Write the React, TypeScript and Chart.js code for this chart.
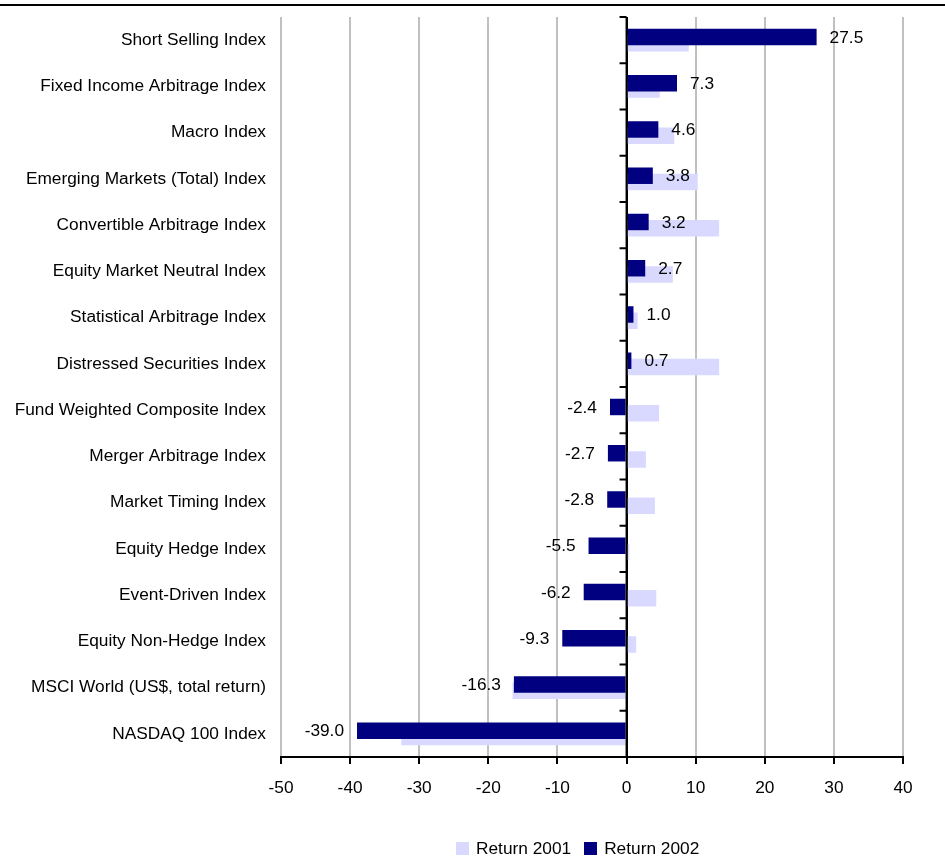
import React, { useEffect, useRef } from 'react';
import { Chart, registerables } from 'chart.js';

Chart.register(...registerables);

const categories = [
  'Short Selling Index',
  'Fixed Income Arbitrage Index',
  'Macro Index',
  'Emerging Markets (Total) Index',
  'Convertible Arbitrage Index',
  'Equity Market Neutral Index',
  'Statistical Arbitrage Index',
  'Distressed Securities Index',
  'Fund Weighted Composite Index',
  'Merger Arbitrage Index',
  'Market Timing Index',
  'Equity Hedge Index',
  'Event-Driven Index',
  'Equity Non-Hedge Index',
  'MSCI World (US$, total return)',
  'NASDAQ 100 Index',
];

const return2001 = [9.0, 4.8, 6.9, 10.3, 13.4, 6.7, 1.6, 13.4, 4.7, 2.8, 4.1, 0.4, 4.3, 1.4, -16.5, -32.6];
const return2002 = [27.5, 7.3, 4.6, 3.8, 3.2, 2.7, 1.0, 0.7, -2.4, -2.7, -2.8, -5.5, -6.2, -9.3, -16.3, -39.0];

const xMin = -50;
const xMax = 40;
const xStep = 10;

const COLOR_2001 = '#d9d9ff';
const COLOR_2002 = '#000080';
const FONT = '"Liberation Sans", Arial, sans-serif';
const FONT_SIZE = 17.3;

const series = [
  { label: 'Return 2002', data: return2002, color: COLOR_2002, order: 0 },
  { label: 'Return 2001', data: return2001, color: COLOR_2001, order: 1 },
];

const legendItems = [...series].reverse();

const overlayPlugin = {
  id: 'overlay',
  afterDatasetsDraw(chart: any) {
    const { ctx, chartArea, scales } = chart;
    const xs = scales.x;
    const ys = scales.y;
    const x0 = xs.getPixelForValue(0);
    ctx.save();
    // vertical axis at zero
    ctx.strokeStyle = '#000';
    ctx.lineWidth = 2;
    ctx.beginPath();
    ctx.moveTo(x0, chartArea.top);
    ctx.lineTo(x0, chartArea.bottom);
    ctx.stroke();
    // tick marks at category boundaries
    const n = categories.length;
    const half = (ys.getPixelForValue(1) - ys.getPixelForValue(0)) / 2;
    for (let i = 0; i <= n; i++) {
      const yy = i < n ? ys.getPixelForValue(i) - half : ys.getPixelForValue(n - 1) + half;
      ctx.beginPath();
      ctx.moveTo(x0 - 7, yy);
      ctx.lineTo(x0, yy);
      ctx.stroke();
    }
    // data labels on 2002 series
    const meta = chart.getDatasetMeta(0);
    ctx.fillStyle = '#000';
    ctx.font = `${FONT_SIZE}px ${FONT}`;
    ctx.textBaseline = 'middle';
    meta.data.forEach((el: any, i: number) => {
      const v = return2002[i];
      const txt = v.toFixed(1);
      if (v >= 0) {
        ctx.textAlign = 'left';
        ctx.fillText(txt, el.x + 13, el.y + 1);
      } else {
        ctx.textAlign = 'right';
        ctx.fillText(txt, el.x - 13, el.y + 1);
      }
    });
    ctx.restore();
  },
  afterDraw(chart: any) {
    const { ctx } = chart;
    ctx.save();
    ctx.fillStyle = '#000';
    ctx.fillRect(0, 4, chart.width, 2);
    ctx.restore();
  },
};

export default function App() {
  const canvasRef = useRef<HTMLCanvasElement | null>(null);

  useEffect(() => {
    if (!canvasRef.current) return;
    Chart.defaults.font.family = FONT;
    const chart = new Chart(canvasRef.current, {
      type: 'bar',
      data: {
        labels: categories,
        datasets: series.map((s) => ({
          label: s.label,
          data: s.data,
          backgroundColor: s.color,
          borderWidth: 0,
          order: s.order,
          categoryPercentage: 0.272,
          barPercentage: 2.62,
        })),
      },
      options: {
        indexAxis: 'y',
        responsive: false,
        animation: false,
        devicePixelRatio: 1,
        layout: { padding: { top: 17, right: 42, left: 0, bottom: 0 } },
        plugins: {
          legend: { display: false },
          tooltip: { enabled: false },
        },
        scales: {
          x: {
            type: 'linear',
            min: xMin,
            max: xMax,
            ticks: {
              stepSize: xStep,
              color: '#000',
              font: { size: FONT_SIZE },
              padding: 14,
              maxRotation: 0,
            },
            grid: {
              color: (c: any) => (c.tick && c.tick.value === 0 ? '#000' : '#c0c0c0'),
              lineWidth: 2,
              tickColor: '#000',
              tickLength: 7,
              tickWidth: 2,
            },
            border: { display: true, color: '#000', width: 2 },
            afterFit: (scale: any) => {
              scale.height = 100;
            },
          },
          y: {
            type: 'category',
            ticks: {
              color: '#000',
              font: { size: FONT_SIZE },
              padding: 15,
              autoSkip: false,
            },
            grid: { display: false, drawTicks: false },
            border: { display: false },
            afterFit: (scale: any) => {
              scale.width = 281;
              scale.paddingTop = 0;
              scale.paddingBottom = 0;
            },
          },
        },
      },
      plugins: [overlayPlugin],
    });
    return () => chart.destroy();
  }, []);

  return (
    <div style={{ position: 'fixed', left: 0, top: 0, width: 945, height: 857, background: '#fff' }}>
      <canvas ref={canvasRef} width={945} height={857} style={{ display: 'block' }} />
      <div
        style={{
          position: 'absolute',
          left: 456,
          top: 838,
          display: 'flex',
          alignItems: 'center',
          fontFamily: FONT,
          fontSize: FONT_SIZE,
          lineHeight: '20px',
          color: '#000',
          whiteSpace: 'nowrap',
        }}
      >
        {legendItems.map((it, i) => (
          <div key={it.label} style={{ display: 'flex', alignItems: 'center', marginLeft: i === 0 ? 0 : 13 }}>
            <span style={{ display: 'inline-block', width: 13, height: 13, background: it.color, marginRight: 7 }} />
            <span>{it.label}</span>
          </div>
        ))}
      </div>
    </div>
  );
}
